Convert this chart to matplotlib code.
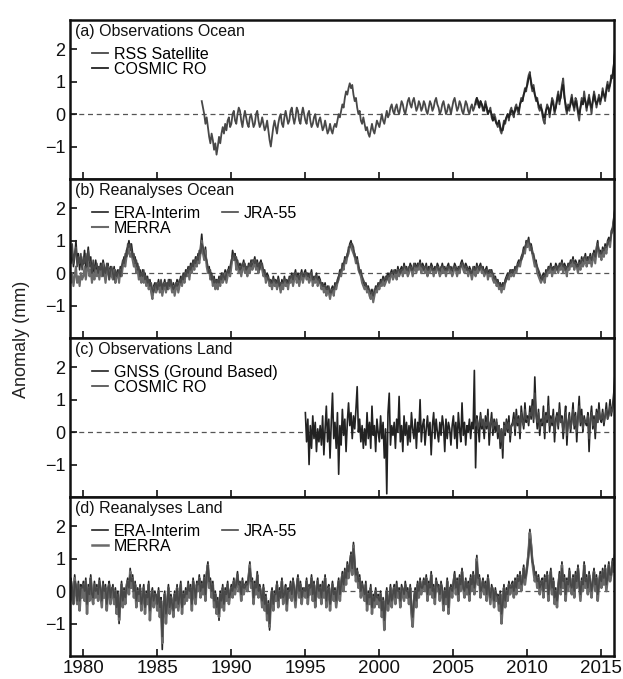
import numpy as np
import matplotlib
matplotlib.use("Agg")
import matplotlib.pyplot as plt
from matplotlib import font_manager

# ---------------- data (monthly anomalies, mm) ----------------
# (a) Observations over ocean
rss_ocean_start = 1988.0
rss_ocean = [
 .4,.2,0,-.3,-.1,-.4,-.7,-.9,-.6,-.8,-1.1,-.9,
 -1.25,-1.0,-.7,-.9,-.6,-.4,-.6,-.3,-.5,-.2,-.1,-.4,
 -.3,0,.1,-.2,-.3,0,.2,.1,-.2,-.4,-.1,.1,
 -.1,-.3,-.4,-.1,0,-.2,-.4,-.3,0,.1,-.2,-.4,
 -.3,-.1,-.3,-.5,-.4,-.2,-.5,-.8,-1.0,-.7,-.4,-.2,
 -.4,-.6,-.3,-.1,0,-.3,-.4,-.1,.1,-.1,-.3,-.2,
 .1,.2,-.1,-.3,-.1,.2,.1,-.2,-.3,0,.2,0,
 -.2,-.3,0,.1,-.2,-.4,-.3,-.1,0,-.3,-.4,-.2,
 -.1,-.3,-.5,-.4,-.2,-.4,-.6,-.5,-.3,-.5,-.6,-.4,
 -.3,-.4,-.2,0,-.1,.1,.3,.2,.5,.7,.6,.8,
 .95,.8,.9,.6,.4,.5,.2,0,.1,-.2,-.3,-.1,
 -.3,-.5,-.4,-.6,-.7,-.5,-.3,-.5,-.6,-.4,-.2,-.3,
 -.4,-.2,0,-.2,-.3,-.1,.1,-.1,0,.2,.3,.1,
 0,.2,.3,.1,0,.2,.4,.3,.1,0,.2,.4,
 .5,.3,.2,.4,.5,.3,.1,.2,.4,.3,.1,.2,
 .4,.3,.1,0,.2,.4,.3,.1,.2,.4,.5,.3,
 .2,0,.1,.3,.4,.2,0,.1,.3,.2,0,.2,
 .4,.5,.3,.1,.2,.4,.3,.1,0,.2,.4,.3,
 .1,0,.2,.3,.1,.2,.4,.5,.3,.2,.4,.3,
 .1,.2,.4,.2,0,.1,.2,-.1,-.2,0,-.1,-.3,
 -.4,-.2,-.5,-.6,-.4,-.2,-.3,-.1,0,-.2,.1,.2,
 0,-.1,.2,.3,.1,0,.3,.5,.4,.6,.8,.7,
 1.0,1.2,1.3,.9,.7,.9,.6,.4,.5,.2,.1,.3,
 0,-.2,-.3,.1,.3,.2,-.1,.2,.5,.4,0,.2,
 .5,.7,.3,.6,.9,1.1,.6,.2,0,.3,.1,.4,
 .6,.3,.1,.5,.4,0,-.2,.2,.5,.3,.7,.4,
 .1,.4,.6,.3,0,.4,.7,.5,.2,.4,.6,.3,
 .5,.8,.6,.4,.8,1.0,.7,.9,1.2,1.1,1.5,2.0]
cosmic_ocean_start = 2006.5
cosmic_ocean = [
 .3,.5,.4,.2,.4,.3,
 .2,.1,.3,.2,0,.1,.1,0,-.2,-.1,-.2,-.3,
 -.3,-.2,-.4,-.5,-.5,-.3,-.2,-.1,0,-.1,0,.1,
 .1,0,.1,.2,.2,.1,.3,.4,.4,.6,.7,.8,
 .9,1.1,1.2,1.0,.8,.8,.6,.5,.4,.3,.2,.2,
 .1,-.1,-.1,.1,.2,.2,0,.2,.4,.3,.1,.2,
 .4,.6,.4,.5,.8,.9,.5,.3,.1,.2,.2,.3,
 .5,.3,.2,.4,.3,.1,0,.2,.4,.3,.5,.4,
 .2,.3,.5,.3,.2,.4,.6,.4,.3,.4,.5,.4,
 .5,.7,.6,.5,.7,.9,.8,.9,1.1,1.2,1.5,1.9]

# (b) Reanalyses over ocean, from January 1979
rean_start = 1979.0
era_ocean = [
 .6,.9,.3,.7,.2,.5,1.0,.4,.6,.1,.5,.2,
 .3,.7,.1,.4,.8,.2,.5,-.1,.3,0,.4,.1,
 .2,-.1,.3,0,.4,.2,-.2,.1,.3,-.1,.2,0,
 -.1,.2,-.3,0,.1,-.2,.2,0,.3,.5,.4,.7,
 .8,1.0,.7,.9,.6,.4,.5,.2,.3,0,.1,-.2,
 .1,-.2,0,-.3,-.1,-.4,-.2,-.5,-.7,-.4,-.3,-.5,
 -.4,-.2,-.5,-.3,-.6,-.4,-.2,-.5,-.3,-.4,-.2,-.3,
 -.5,-.3,-.6,-.4,-.2,-.5,-.3,-.1,-.3,0,-.2,.1,
 0,.2,-.1,.3,.1,.4,.2,.5,.3,.6,.4,.8,
 1.2,.7,.5,.8,.3,.1,.2,-.1,0,-.3,-.1,-.4,
 -.2,-.4,-.1,-.3,0,-.2,-.1,.1,-.2,0,.2,0,
 .3,.7,.5,.6,.2,.4,.1,.3,0,.2,.4,.1,
 .2,0,.3,.1,.4,.2,.3,.5,.2,.4,.1,.3,
 .4,.2,0,.1,-.2,0,-.1,-.3,-.2,-.4,-.1,-.3,
 -.2,-.4,-.1,-.3,-.5,-.2,-.4,-.1,-.3,-.2,-.4,-.1,
 -.2,0,-.3,-.1,.1,-.2,0,-.3,-.1,.1,-.2,0,
 .1,-.1,0,-.2,-.1,.1,-.3,-.1,-.2,0,-.3,-.1,
 -.2,-.4,-.3,-.5,-.3,-.6,-.4,-.5,-.7,-.5,-.4,-.6,
 -.3,-.4,-.2,-.1,.1,0,.3,.2,.5,.4,.6,.7,
 .9,1.0,.8,.7,.6,.4,.5,.2,.1,0,-.2,-.3,
 -.4,-.3,-.5,-.4,-.6,-.7,-.5,-.8,-.6,-.4,-.5,-.3,
 -.4,-.2,-.3,-.1,-.3,-.2,-.1,0,-.2,0,.1,-.1,
 0,.1,-.1,.2,0,.1,.2,0,.3,.1,.2,0,
 .1,.3,.2,0,.2,.3,.1,.3,.2,.4,.1,.3,
 .2,.1,.3,0,.2,.1,.3,.2,0,.2,.1,.3,
 .2,0,.1,.3,.1,.2,0,.2,.3,.1,.2,0,
 .1,.3,.2,0,.2,.1,.3,.4,.2,.1,.3,.2,
 0,.2,.1,-.1,.1,.2,0,.3,.1,.2,.3,.1,
 .2,0,.1,.2,-.1,.1,0,.1,-.1,-.2,-.1,-.3,
 -.2,-.4,-.3,-.5,-.3,-.4,-.2,-.1,0,-.1,.1,0,
 .1,0,.2,.1,.3,.4,.3,.5,.6,.8,.7,1.0,
 .9,1.1,.8,.9,.7,.5,.3,.4,.1,0,-.1,-.2,
 -.1,0,-.2,.1,0,.2,.1,.3,0,.2,.1,.3,
 .2,.1,.3,.2,.4,.1,.3,.2,0,.3,.2,.4,
 .3,.5,.2,.4,.3,.1,.4,.2,.5,.3,.4,.6,
 .3,.5,.4,.6,.3,.5,.7,.4,.8,1.0,.6,.7,
 .5,.8,.6,.9,.7,1.0,1.1,.9,1.3,1.4,1.7,2.0]
jra_ocean = [
 .4,.7,.5,.9,.3,.6,.8,.2,.5,.3,.6,.1,
 .5,.3,.6,.2,.7,.4,.3,0,.4,.1,.2,.3,
 0,.2,.1,.3,-.1,.2,0,.3,.1,-.2,.1,.2,
 0,-.2,.1,-.1,0,.1,-.1,.2,.4,.3,.6,.5,
 .9,.8,.9,.7,.5,.6,.3,.4,.1,.2,-.1,0,
 -.1,.1,-.2,-.1,-.3,-.2,-.4,-.3,-.5,-.6,-.4,-.3,
 -.5,-.3,-.4,-.2,-.5,-.3,-.4,-.3,-.5,-.2,-.4,-.2,
 -.4,-.5,-.4,-.3,-.4,-.3,-.2,-.3,-.1,-.2,0,-.1,
 .1,0,.2,.1,.3,.2,.4,.3,.5,.4,.7,.6,
 .9,.8,.6,.5,.4,.2,0,.1,-.2,-.1,-.3,-.2,
 -.3,-.2,-.3,-.1,-.2,0,-.1,-.2,0,.1,0,.2,
 .4,.5,.6,.4,.5,.3,.2,.1,.2,.3,.2,.3,
 .1,.2,.2,.3,.2,.4,.4,.3,.4,.2,.3,.1,
 .3,.3,.1,0,-.1,-.1,-.2,-.2,-.3,-.3,-.2,-.2,
 -.3,-.3,-.2,-.4,-.3,-.3,-.3,-.2,-.2,-.3,-.3,-.2,
 -.1,-.1,-.2,0,0,-.1,-.1,-.2,0,0,-.1,-.1,
 0,0,-.1,-.1,0,0,-.2,-.2,-.1,-.1,-.2,-.2,
 -.3,-.3,-.4,-.4,-.4,-.5,-.5,-.4,-.6,-.6,-.5,-.5,
 -.4,-.3,-.3,-.1,0,.1,.2,.3,.4,.5,.5,.8,
 .8,.9,.9,.8,.5,.5,.3,.3,0,.1,-.1,-.2,
 -.3,-.4,-.4,-.5,-.5,-.6,-.6,-.7,-.5,-.5,-.4,-.4,
 -.3,-.3,-.2,-.2,-.2,-.1,-.2,-.1,-.1,0,0,0,
 .1,0,0,.1,.1,0,.1,.1,.2,.2,.1,.1,
 .2,.2,.1,.1,.3,.2,.2,.2,.3,.3,.2,.2,
 .1,.2,.2,.1,.1,.2,.2,.1,.1,.1,.2,.2,
 .1,.1,.2,.2,.2,.1,.1,.1,.2,.2,.1,.1,
 .2,.2,.1,.1,.1,.2,.2,.3,.3,.2,.2,.1,
 .1,.1,0,0,.2,.1,.1,.2,.2,.1,.2,.2,
 .1,.1,0,.1,0,0,.1,0,0,-.1,-.2,-.2,
 -.3,-.3,-.4,-.4,-.4,-.3,-.3,-.2,-.1,0,0,.1,
 0,.1,.1,.2,.2,.3,.4,.4,.5,.7,.8,.9,
 1.0,1.0,.9,.8,.6,.6,.4,.3,.2,.1,0,-.1,
 -.2,-.1,-.1,0,.1,.1,.2,.2,.1,.1,.2,.2,
 .1,.2,.2,.3,.3,.2,.2,.1,.2,.2,.3,.3,
 .4,.4,.3,.3,.2,.2,.3,.3,.4,.4,.5,.5,
 .4,.4,.5,.5,.4,.6,.6,.5,.7,.9,.7,.6,
 .6,.7,.7,.8,.8,.9,1.0,1.0,1.2,1.3,1.6,1.8]
merra_ocean = [
 -.2,.1,-.3,0,-.4,-.1,.2,-.3,-.1,-.4,0,-.2,
 -.1,.2,-.2,.1,.3,-.1,.1,-.3,0,-.2,.1,-.1,
 .1,-.2,.2,-.1,.3,0,-.3,0,.2,-.2,.1,-.1,
 -.2,.1,-.3,-.1,0,-.3,.1,-.1,.2,.3,.2,.5,
 .6,.8,.5,.6,.4,.2,.3,0,.1,-.2,-.1,-.3,
 0,-.3,-.1,-.4,-.2,-.5,-.3,-.6,-.8,-.5,-.4,-.6,
 -.5,-.3,-.6,-.4,-.7,-.5,-.3,-.6,-.4,-.5,-.3,-.4,
 -.6,-.4,-.7,-.5,-.3,-.6,-.4,-.2,-.4,-.1,-.3,0,
 -.1,.1,-.2,.2,0,.3,.1,.4,.2,.5,.3,.6,
 1.0,.6,.4,.7,.2,0,.1,-.2,-.1,-.4,-.2,-.5,
 -.3,-.5,-.2,-.4,-.1,-.3,-.2,0,-.3,-.1,.1,-.1,
 .2,.5,.4,.5,.1,.3,0,.2,-.1,.1,.3,0,
 .1,-.1,.2,0,.3,.1,.2,.4,.1,.3,0,.2,
 .3,.1,-.1,0,-.3,-.1,-.2,-.4,-.3,-.5,-.2,-.4,
 -.3,-.5,-.2,-.4,-.6,-.3,-.5,-.2,-.4,-.3,-.5,-.2,
 -.3,-.1,-.4,-.2,0,-.3,-.1,-.4,-.2,0,-.3,-.1,
 0,-.2,-.1,-.3,-.2,0,-.4,-.2,-.3,-.1,-.4,-.2,
 -.3,-.5,-.4,-.6,-.4,-.7,-.5,-.6,-.8,-.6,-.5,-.7,
 -.4,-.5,-.3,-.2,0,-.1,.2,.1,.4,.3,.5,.6,
 .8,.9,.7,.6,.5,.3,.4,.1,0,-.1,-.3,-.4,
 -.5,-.4,-.6,-.5,-.7,-.8,-.6,-.9,-.7,-.5,-.6,-.4,
 -.5,-.3,-.4,-.2,-.4,-.3,-.2,-.1,-.3,-.1,0,-.2,
 -.1,0,-.2,.1,-.1,0,.1,-.1,.2,0,.1,-.1,
 0,.2,.1,-.1,.1,.2,0,.2,.1,.3,0,.2,
 .1,0,.2,-.1,.1,0,.2,.1,-.1,.1,0,.2,
 .1,-.1,0,.2,0,.1,-.1,.1,.2,0,.1,-.1,
 0,.2,.1,-.1,.1,0,.2,.3,.1,0,.2,.1,
 -.1,.1,0,-.2,0,.1,-.1,.2,0,.1,.2,0,
 .1,-.1,0,.1,-.2,0,-.1,0,-.2,-.3,-.2,-.4,
 -.3,-.5,-.4,-.6,-.4,-.5,-.3,-.2,-.1,-.2,0,-.1,
 0,-.1,.1,0,.2,.3,.2,.4,.5,.7,.6,.9,
 .8,1.0,.7,.8,.6,.4,.2,.3,0,-.1,-.2,-.3,
 -.2,-.1,-.3,0,-.1,.1,0,.2,-.1,.1,0,.2,
 .1,0,.2,.1,.3,0,.2,.1,-.1,.2,.1,.3,
 .2,.4,.1,.3,.2,0,.3,.1,.4,.2,.3,.5,
 .2,.4,.3,.5,.2,.4,.6,.3,.7,.9,.5,.6,
 .4,.7,.5,.8,.6,.9,1.0,.8,1.2,1.3,1.6,1.9]

# (c) Observations over land
gnss_land_start = 1995.0
gnss_land = [
 .6,-.3,.4,-1.0,.2,-.5,.5,-.2,.3,-.6,.1,-.3,
 .2,-.4,.5,-.7,.1,.8,-.3,.4,-.8,.3,1.2,-.2,
 .3,-.5,.6,-1.3,.2,-.4,.7,-.1,.4,-.6,.3,.9,
 .2,.6,-.2,.5,.1,.7,1.4,0,.4,-.3,.2,-.5,
 .1,-.4,.6,-.2,.3,-.5,.8,-.1,.2,-.6,.4,0,
 -.3,.5,-.2,.3,-.8,.1,-1.9,.6,1.2,-.4,.2,-.1,
 .3,-.5,.4,0,1.1,-.3,.2,-.6,.5,-.1,.3,-.4,
 .2,-.3,.6,.1,-.2,.4,-.5,.3,0,1.0,-.3,.2,
 .4,-.4,.1,.5,-.1,.3,-.7,.2,.6,-.2,.4,0,
 -.3,.3,-.1,.5,.2,-.6,.4,-.2,.3,.1,-.4,.2,
 .5,-.2,.3,-.5,.6,.1,-.3,.9,-.1,.3,-.4,.2,
 0,.4,-.2,.3,.1,1.9,-1.1,.5,.2,-.3,.6,.1,
 .3,-.2,.5,.1,.7,-.4,.2,.6,-.1,.4,0,.3,
 -.2,.2,-.5,.1,-.8,.3,-.1,.4,0,.5,-.3,.2,
 .3,.6,-.1,.7,.2,.5,-.2,.8,.4,.1,.9,.3,
 .5,.2,.8,.4,1.0,.3,1.7,.6,.1,.7,-.1,.4,
 .2,.8,-.2,.6,.3,1.1,0,.5,.2,.7,-.3,.4,
 .6,.1,.9,.3,.5,-.2,.4,.8,-.4,.3,.6,0,
 .4,.9,.1,.6,-.3,.5,1.1,.2,.7,0,.5,.3,
 .2,.6,-.6,.4,.8,.1,.5,-.2,.7,.3,.9,.4,
 .3,.7,.2,.5,.9,.4,.6,1.0,.5,.8,1.2,1.8]
cosmic_land_start = 2006.5
cosmic_land = [
 .2,.4,.1,.3,.5,.2,
 .4,.1,.3,.2,.5,0,.3,.4,.1,.3,.2,.4,
 0,.2,-.3,.1,-.5,.2,0,.3,.1,.3,-.1,.2,
 .2,.4,.1,.5,.3,.4,0,.6,.3,.2,.7,.4,
 .4,.3,.6,.5,.8,.4,1.2,.5,.3,.6,.1,.3,
 .3,.6,0,.5,.4,.8,.2,.4,.3,.5,0,.3,
 .5,.2,.7,.3,.4,0,.3,.6,-.1,.3,.5,.1,
 .3,.7,.2,.5,0,.4,.8,.3,.5,.1,.4,.3,
 .3,.5,-.2,.4,.6,.2,.4,0,.6,.3,.7,.4,
 .4,.6,.3,.5,.7,.4,.5,.8,.6,.7,1.0,1.5]

# (d) Reanalyses over land, from January 1979
era_land = [
 .2,-.4,.4,0,-.3,.5,.1,-.2,.3,-.5,.2,0,
 .3,-.1,.4,-.6,.2,-.2,.5,0,-.3,.3,-.1,.2,
 -.2,.4,0,-.4,.3,-.1,.2,-.5,.1,.3,-.3,0,
 .2,-.3,.1,-.6,0,-1.0,-.2,.3,-.4,.1,-.3,.2,
 .4,0,.7,.2,.5,-.1,.3,-.4,.1,-.2,.2,-.5,
 -.1,.2,-.6,0,-.3,.3,-.8,-.1,.1,-.4,0,-.2,
 -.5,.1,-.7,-.2,-1.8,-.4,0,-.9,-.3,.2,-.6,-.1,
 -.3,-.7,0,-.4,.2,-.5,-.1,.3,-.6,0,-.3,.1,
 -.2,.3,-.1,.2,-.5,.4,0,-.3,.3,.1,.5,-.1,
 .3,0,.5,-.2,.6,.9,.2,.4,-.1,.3,-.4,0,
 -.6,-.2,-.9,0,-.4,.2,-.5,.1,-.2,.3,-.3,0,
 .2,-.1,.4,0,.3,.6,.1,.3,-.2,.4,0,.2,
 .3,.1,.5,.9,.2,.4,-.3,.3,0,.6,-.1,.2,
 0,-.4,.2,-.5,-.1,-.8,-.3,-1.2,-.2,.1,-.5,0,
 -.2,.3,-.4,.1,-.1,.4,-.3,0,.2,-.5,.1,-.1,
 .3,-.2,.4,0,-.4,.2,.5,-.1,.3,-.3,.1,0,
 -.1,.4,-.3,.2,0,.5,-.2,.3,-.4,.1,.4,-.1,
 .2,-.3,.3,-.1,.5,-.4,.1,.2,-.5,0,.3,-.2,
 .1,-.4,0,.4,-.2,.3,.6,.1,.7,.3,.9,.5,
 .8,1.2,.6,1.5,.9,.4,.7,.2,.5,-.1,.3,0,
 -.2,.3,-.5,0,-.3,.2,-.6,-.1,-.4,.1,-.3,-.1,
 -.4,0,-.7,-.2,-1.1,-.3,.1,-.5,-.2,.2,-.4,0,
 .2,-.3,.3,-.1,.1,-.4,.2,0,-.2,.3,-.1,.1,
 -.3,.2,-.6,-1.0,-.2,.1,-.4,.3,-.1,.4,0,.2,
 .4,.1,.5,-.2,.3,0,.6,-.1,.2,-.3,.4,.1,
 .2,-.2,.3,0,-.5,.1,-.3,.4,-.6,0,.2,-.1,
 .3,.6,0,.4,-.2,.5,.1,.7,.2,-.1,.4,0,
 .3,-.2,.5,.1,.6,0,.4,1.1,.3,.5,-.1,.2,
 .4,0,.3,-.2,.5,.1,-.3,.2,0,-.4,.1,-.2,
 -.1,-.5,0,-.9,-.3,.2,-.4,.1,-.2,.3,0,.2,
 .3,-.1,.4,0,.5,.2,.6,.1,.4,.8,.3,.6,
 .9,1.3,1.9,1.5,1.0,.7,.4,.6,.2,.5,0,.3,
 .4,-.1,.5,.2,.6,-.2,.3,.7,0,.4,-.3,.1,
 -.4,.2,.6,0,.9,.2,.5,-.2,.4,.1,.7,.3,
 0,.5,-.1,.6,.2,.8,.3,-.2,.4,.1,.9,.2,
 .5,0,.6,.2,-.1,.4,.7,.1,.5,-.2,.3,.6,
 .2,.7,.3,.8,.1,.5,.9,.4,.6,1.0,.7,1.2]
jra_land = [
 0,-.2,.3,.1,-.4,.3,.2,-.3,.2,-.3,.1,.1,
 .2,0,.3,-.4,.1,-.1,.4,-.1,-.2,.2,0,.1,
 -.1,.3,.1,-.3,.2,0,.1,-.4,0,.2,-.2,.1,
 .1,-.2,0,-.5,-.1,-.8,-.3,.2,-.3,0,-.2,.1,
 .3,.1,.5,.3,.4,0,.2,-.3,0,-.1,.1,-.4,
 -.2,.1,-.5,-.1,-.2,.2,-.6,-.2,0,-.3,-.1,-.1,
 -.4,0,-.5,-.3,-1.4,-.5,-.1,-.7,-.4,.1,-.5,-.2,
 -.4,-.6,-.1,-.3,.1,-.4,-.2,.2,-.5,-.1,-.2,0,
 -.1,.2,0,.1,-.4,.3,.1,-.2,.2,.2,.4,0,
 .2,.1,.4,-.1,.5,.8,.3,.3,0,.2,-.3,-.1,
 -.5,-.3,-.7,-.1,-.3,.1,-.4,0,-.1,.2,-.2,-.1,
 .1,0,.3,.1,.2,.5,.2,.2,-.1,.3,.1,.1,
 .2,.2,.4,.7,.3,.3,-.2,.2,.1,.5,0,.1,
 -.1,-.3,.1,-.4,-.2,-.7,-.4,-1.0,-.3,0,-.4,-.1,
 -.1,.2,-.3,0,-.2,.3,-.2,-.1,.1,-.4,0,0,
 .2,-.1,.3,.1,-.3,.1,.4,0,.2,-.2,0,.1,
 0,.3,-.2,.1,.1,.4,-.1,.2,-.3,0,.3,0,
 .1,-.2,.2,0,.4,-.3,0,.1,-.4,-.1,.2,-.1,
 0,-.3,.1,.3,-.1,.2,.5,.2,.6,.4,.8,.6,
 .9,1.1,.7,1.3,.8,.5,.6,.3,.4,0,.2,.1,
 -.1,.2,-.4,-.1,-.2,.1,-.5,-.2,-.3,0,-.2,-.2,
 -.3,-.1,-.6,-.3,-.9,-.4,0,-.4,-.3,.1,-.3,-.1,
 .1,-.2,.2,0,0,-.3,.1,.1,-.1,.2,0,0,
 -.2,.1,-.5,-.8,-.3,0,-.3,.2,0,.3,.1,.1,
 .3,.2,.4,-.1,.2,.1,.5,0,.1,-.2,.3,.2,
 .1,-.1,.2,.1,-.4,0,-.2,.3,-.5,.1,.1,0,
 .2,.5,.1,.3,-.1,.4,.2,.6,.1,0,.3,.1,
 .2,-.1,.4,.2,.5,.1,.3,.9,.4,.4,0,.1,
 .3,.1,.2,-.1,.4,0,-.2,.1,.1,-.3,0,-.1,
 -.2,-.4,-.1,-.7,-.4,.1,-.3,0,-.1,.2,.1,.1,
 .2,0,.3,.1,.4,.3,.5,.2,.3,.7,.4,.5,
 .8,1.1,1.6,1.3,.9,.8,.5,.5,.3,.4,.1,.2,
 .3,0,.4,.3,.5,-.1,.2,.6,.1,.3,-.2,0,
 -.3,.1,.5,.1,.7,.3,.4,-.1,.3,.2,.6,.2,
 .1,.4,0,.5,.3,.7,.2,-.1,.3,.2,.8,.3,
 .4,.1,.5,.3,0,.3,.6,.2,.4,-.1,.2,.5,
 .3,.6,.4,.7,.2,.4,.8,.5,.5,.9,.8,1.1]
merra_land = [
 .1,-.5,.3,-.2,-.4,.4,0,-.4,.2,-.6,.1,-.2,
 .2,-.3,.3,-.7,.1,-.3,.4,-.2,-.4,.2,-.2,.1,
 -.3,.3,-.1,-.5,.2,-.2,.1,-.6,0,.2,-.4,-.1,
 .1,-.4,0,-.7,-.2,-.9,-.3,.2,-.5,0,-.4,.1,
 .3,-.1,.6,.1,.4,-.2,.2,-.5,0,-.3,.1,-.6,
 -.2,.1,-.7,-.1,-.4,.2,-.9,-.2,0,-.5,-.1,-.3,
 -.6,0,-.8,-.3,-1.6,-.5,-.1,-1.0,-.4,.1,-.7,-.2,
 -.4,-.8,-.1,-.5,.1,-.6,-.2,.2,-.7,-.1,-.4,0,
 -.3,.2,-.2,.1,-.6,.3,-.1,-.4,.2,0,.4,-.2,
 .2,-.1,.4,-.3,.5,.8,.1,.3,-.2,.2,-.5,-.1,
 -.7,-.3,-.8,-.1,-.5,.1,-.6,0,-.3,.2,-.4,-.1,
 .1,-.2,.3,-.1,.2,.5,0,.2,-.3,.3,-.1,.1,
 .2,0,.4,.8,.1,.3,-.4,.2,-.1,.5,-.2,.1,
 -.1,-.5,.1,-.6,-.2,-.9,-.4,-1.1,-.3,0,-.6,-.1,
 -.3,.2,-.5,0,-.2,.3,-.4,-.1,.1,-.6,0,-.2,
 .2,-.3,.3,-.1,-.5,.1,.4,-.2,.2,-.4,0,-.1,
 -.2,.3,-.4,.1,-.1,.4,-.3,.2,-.5,0,.3,-.2,
 .1,-.4,.2,-.2,.4,-.5,0,.1,-.6,-.1,.2,-.3,
 0,-.5,-.1,.3,-.3,.2,.5,0,.6,.2,.8,.4,
 .7,1.1,.5,1.4,.8,.3,.6,.1,.4,-.2,.2,-.1,
 -.3,.2,-.6,-.1,-.4,.1,-.7,-.2,-.5,0,-.4,-.2,
 -.5,-.1,-.8,-.3,-1.2,-.4,0,-.6,-.3,.1,-.5,-.1,
 .1,-.4,.2,-.2,0,-.5,.1,-.1,-.3,.2,-.2,0,
 -.4,.1,-.7,-1.1,-.3,0,-.5,.2,-.2,.3,-.1,.1,
 .3,0,.4,-.3,.2,-.1,.5,-.2,.1,-.4,.3,0,
 .1,-.3,.2,-.1,-.6,0,-.4,.3,-.7,-.1,.1,-.2,
 .2,.5,-.1,.3,-.3,.4,0,.6,.1,-.2,.3,-.1,
 .2,-.3,.4,0,.5,-.1,.3,1.0,.2,.4,-.2,.1,
 .3,-.1,.2,-.3,.4,0,-.4,.1,-.1,-.5,0,-.3,
 -.2,-.6,-.1,-1.0,-.4,.1,-.5,0,-.3,.2,-.1,.1,
 .2,-.2,.3,-.1,.4,.1,.5,0,.3,.7,.2,.5,
 .8,1.2,1.8,1.4,.9,.6,.3,.5,.1,.4,-.1,.2,
 .3,-.2,.4,.1,.5,-.3,.2,.6,-.1,.3,-.4,0,
 -.5,.1,.5,-.1,.8,.1,.4,-.3,.3,0,.6,.2,
 -.1,.4,-.2,.5,.1,.7,.2,-.3,.3,0,.8,.1,
 .4,-.1,.5,.1,-.2,.3,.6,0,.4,-.3,.2,.5,
 .1,.6,.2,.7,0,.4,.8,.3,.5,.9,.6,1.1]

panel_titles = ["(a) Observations Ocean", "(b) Reanalyses Ocean",
                "(c) Observations Land", "(d) Reanalyses Land"]
year_ticks = [1980, 1985, 1990, 1995, 2000, 2005, 2010, 2015]
anom_ticks = [-1, 0, 1, 2]

# ---------------- styling ----------------
available = {f.name for f in font_manager.fontManager.ttflist}
family = [f for f in ["Liberation Sans Narrow", "Liberation Sans", "DejaVu Sans"] if f in available]
plt.rcParams["font.family"] = family

C_DARK = "#222222"
C_MID = "#484848"
C_LIGHT = "#6a6a6a"


def months(start, values):
    return start + np.arange(len(values)) / 12.0


fig = plt.figure(figsize=(6.23, 6.79), dpi=100)
left, right, top, bottom = 70 / 623, 614 / 623, 1 - 20 / 679, 1 - 656 / 679
axes = fig.subplots(4, 1, sharex=True,
                    gridspec_kw=dict(left=left, right=right, top=top,
                                     bottom=bottom, hspace=0))

panels = [
    [("RSS Satellite", rss_ocean_start, rss_ocean, C_MID, 1.3),
     ("COSMIC RO", cosmic_ocean_start, cosmic_ocean, C_DARK, 1.3)],
    [("ERA-Interim", rean_start, era_ocean, C_DARK, 1.2),
     ("MERRA", rean_start, merra_ocean, C_LIGHT, 1.5),
     ("JRA-55", rean_start, jra_ocean, C_MID, 1.2)],
    [("GNSS (Ground Based)", gnss_land_start, gnss_land, C_DARK, 1.2),
     ("COSMIC RO", cosmic_land_start, cosmic_land, C_MID, 1.2)],
    [("ERA-Interim", rean_start, era_land, C_DARK, 1.2),
     ("MERRA", rean_start, merra_land, C_LIGHT, 1.8),
     ("JRA-55", rean_start, jra_land, C_MID, 1.2)],
]

for ax, title, series in zip(axes, panel_titles, panels):
    ax.axhline(0, color="#555555", lw=0.9, ls=(0, (4, 3)), zorder=1)
    for label, start, vals, col, lw in series:
        ax.plot(months(start, vals), vals, color=col, lw=lw, label=label, zorder=2)
    ax.set_xlim(1979.1, 2015.85)
    ax.set_ylim(-2.0, 2.9)
    ax.set_yticks(anom_ticks)
    ax.set_xticks(year_ticks)
    ax.tick_params(axis="both", direction="in", length=5, width=1.2,
                   colors="#111111", labelsize=13)
    ax.tick_params(axis="x", labelsize=13.5, pad=3)
    for s in ax.spines.values():
        s.set_linewidth(1.8)
        s.set_color("#111111")
    ax.text(0.010, 0.975, title, transform=ax.transAxes, ha="left", va="top",
            fontsize=11.5, color="#111111")
    ncol = 2 if len(series) == 3 else 1
    ax.legend(loc="upper left", bbox_to_anchor=(0.025, 0.88), ncol=ncol,
              frameon=False, fontsize=11.5, handlelength=1.0, handletextpad=0.4,
              borderpad=0.0, labelspacing=0.0, columnspacing=1.3)

axes[-1].set_xticklabels([str(y) for y in year_ticks])
fig.text(0.035, 0.5, "Anomaly (mm)", rotation=90, ha="center", va="center",
         fontsize=13, color="#222222")

fig.savefig("out.png", dpi=100)
